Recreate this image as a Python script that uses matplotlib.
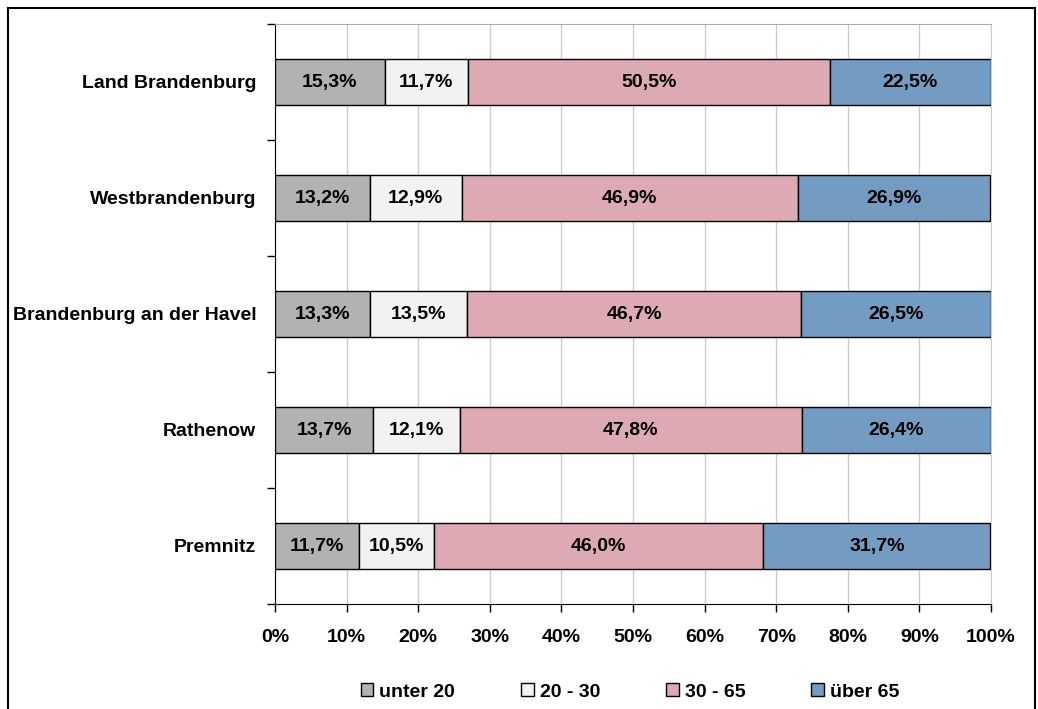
import matplotlib
matplotlib.use("Agg")
import matplotlib.pyplot as plt
from matplotlib.patches import Rectangle
from matplotlib.ticker import FixedLocator, FuncFormatter

categories = ["Land Brandenburg", "Westbrandenburg", "Brandenburg an der Havel", "Rathenow", "Premnitz"]
series_names = ["unter 20", "20 - 30", "30 - 65", "über 65"]
unter20 = [15.3, 13.2, 13.3, 13.7, 11.7]
s20_30 = [11.7, 12.9, 13.5, 12.1, 10.5]
s30_65 = [50.5, 46.9, 46.7, 47.8, 46.0]
ueber65 = [22.5, 26.9, 26.5, 26.4, 31.7]
series = [unter20, s20_30, s30_65, ueber65]
colors = ["#B2B2B2", "#F2F2F2", "#DDA9B2", "#749CC3"]
xticks = [0, 10, 20, 30, 40, 50, 60, 70, 80, 90, 100]

plt.rcParams['font.family'] = ['Liberation Sans', 'DejaVu Sans']
plt.rcParams['font.weight'] = 'bold'

W, H = 1038, 709
fig = plt.figure(figsize=(W / 100, H / 100), dpi=100)
ax = fig.add_axes([275 / W, 1 - 604 / H, (991 - 275) / W, (604 - 24) / H])

n = len(categories)
ypos = list(range(n - 1, -1, -1))
left = [0.0] * n
for vals, name, col in zip(series, series_names, colors):
    bars = ax.barh(ypos, vals, left=left, height=0.4, color=col, edgecolor="black",
                   linewidth=1.0, label=name, zorder=3)
    for b, v in zip(bars, vals):
        ax.text(b.get_x() + b.get_width() / 2, b.get_y() + b.get_height() / 2,
                f"{v:.1f}%".replace(".", ","), ha="center", va="center",
                fontsize=14, fontweight="bold", color="black", zorder=4)
    left = [l + v for l, v in zip(left, vals)]

ax.set_xlim(0, 100)
ax.set_ylim(-0.5, n - 0.5)
ax.set_xticks(xticks)
ax.xaxis.set_major_formatter(FuncFormatter(lambda v, p: f"{int(v)}%"))
ax.set_yticks(ypos)
ax.set_yticklabels(categories)
ax.yaxis.set_minor_locator(FixedLocator([i - 0.5 for i in range(n + 1)]))
ax.tick_params(axis="y", which="major", length=0, pad=13.5, labelsize=14)
ax.tick_params(axis="y", which="minor", length=6, width=1, direction="out")
ax.tick_params(axis="x", which="major", length=6, width=1, direction="out", pad=12, labelsize=14)
for lab in ax.get_xticklabels() + ax.get_yticklabels():
    lab.set_fontweight("bold")

ax.grid(axis="x", color="#CCCCCC", linewidth=1.0, zorder=0)
ax.set_axisbelow(True)
ax.spines["top"].set_color("#AAAAAA")
ax.spines["right"].set_color("#CCCCCC")
ax.spines["left"].set_color("black")
ax.spines["bottom"].set_color("black")

leg = fig.legend(loc="center", bbox_to_anchor=(630 / W, 1 - 692 / H), ncol=4, frameon=False,
                 handlelength=0.65, handleheight=0.65, handletextpad=0.3,
                 columnspacing=3.4, prop={"weight": "bold", "size": 14})

fig.patches.append(Rectangle((8 / W, -0.01), (1035 - 8) / W, 1.01 - 7.5 / H,
                             transform=fig.transFigure, fill=False, edgecolor="black",
                             linewidth=1.5))

fig.savefig("out.png", dpi=100)
